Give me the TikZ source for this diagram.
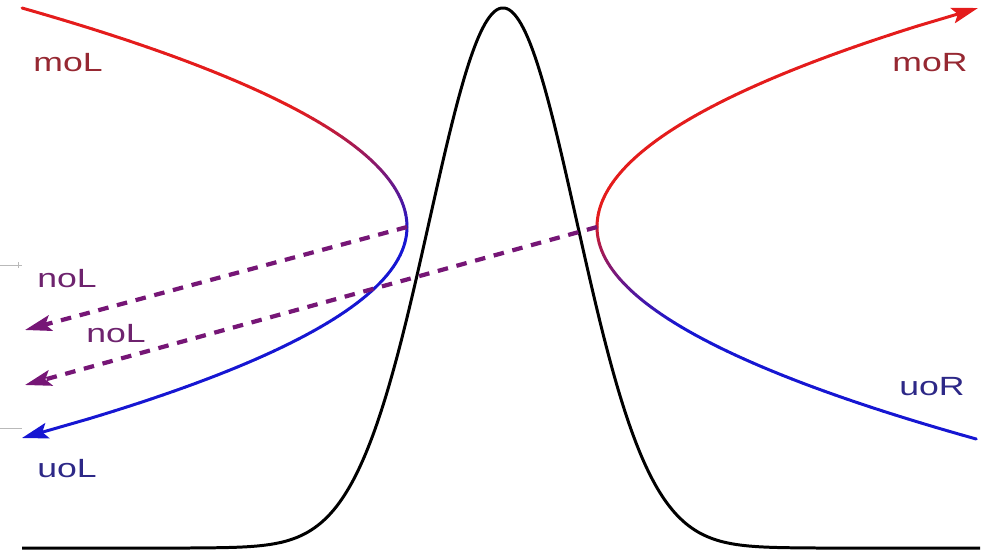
\documentclass[tikz,border=0pt]{standalone}
\usepackage{fontspec}
\setmainfont{Liberation Sans}
\usetikzlibrary{arrows.meta}
\definecolor{BrRed}{RGB}{228,28,28}
\definecolor{BrBlue}{RGB}{22,22,210}
\definecolor{BrPurple}{RGB}{118,22,118}
\definecolor{TxRed}{RGB}{150,40,50}
\definecolor{TxPurple}{RGB}{110,35,110}
\definecolor{TxBlue}{RGB}{45,40,135}

\begin{document}
\begin{tikzpicture}[x=0.02cm, y=-0.02cm,
      branch/.style={line width=1.7pt, line cap=round},
      bell/.style={black, line width=1.7pt},
      tunnel/.style={BrPurple, line width=2.4pt, dash pattern=on 6pt off 5pt,
                     -{Stealth[length=15pt, width=9pt, inset=3pt]}},
      tip/.style={-{Stealth[length=15pt, width=9pt, inset=3pt]}},
      lbl/.style={font=\fontsize{15}{18}\selectfont, inner sep=0pt,
                  xscale=1.35, transform shape}
    ]
    \useasboundingbox (0,0) rectangle (990,556);

    %--- stray marks at the left edge
    \draw[gray!55, line width=0.5pt] (0,265) -- (22,265) (18,262) -- (18,268);
    \draw[gray!55, line width=0.5pt] (0,428) -- (22,428);

    %--- barrier
    \draw[bell] plot[domain=22:980, samples=241, smooth]
          (\x, {548-540*exp(-((\x-503)/104)^2)});

    %--- left branch
    \coordinate (vL) at (407,227);
    \coordinate (uoLtip) at (22,438);
    \foreach \y [remember=\y as \yp (initially 8)] in {11,14,...,227} {
      \pgfmathtruncatemacro\pc{max(0,min(100,(240-\y)/1.3))}
      \draw[branch, BrRed!\pc!BrBlue]
            ({407-0.00803*(\yp-227)*(\yp-227)},\yp)
            -- ({407-0.00803*(\y-227)*(\y-227)},\y);
    }
    \foreach \y [remember=\y as \yp (initially 227)] in {231,235,...,419} {
      \pgfmathtruncatemacro\pc{max(0,min(100,(240-\y)/1.3))}
      \draw[branch, BrRed!\pc!BrBlue]
            ({407-0.00865*(\yp-227)*(\yp-227)},\yp)
            -- ({407-0.00865*(\y-227)*(\y-227)},\y);
    }
    \coordinate (uoLend) at ({407-0.00865*192*192},419);
    \draw[branch, BrBlue, tip] (uoLend) -- (uoLtip);

    %--- right branch
    \coordinate (vR) at (597,227);
    \coordinate (moRtip) at (978,8);
    \coordinate (moRend) at ({597+0.00794*201*201},26);
    \draw[branch, BrRed, tip] (moRend) -- (moRtip);
    \foreach \y [remember=\y as \yp (initially 26)] in {29,32,...,227} {
      \pgfmathtruncatemacro\pc{max(0,min(100,(330-\y)/1.1))}
      \draw[branch, BrRed!\pc!BrBlue]
            ({597+0.00794*(\yp-227)*(\yp-227)},\yp)
            -- ({597+0.00794*(\y-227)*(\y-227)},\y);
    }
    \foreach \y [remember=\y as \yp (initially 227)] in {231,235,...,439} {
      \pgfmathtruncatemacro\pc{max(0,min(100,(330-\y)/1.1))}
      \draw[branch, BrRed!\pc!BrBlue]
            ({597+0.00844*(\yp-227)*(\yp-227)},\yp)
            -- ({597+0.00844*(\y-227)*(\y-227)},\y);
    }

    %--- tunnelling paths
    \coordinate (noLtipA) at (25,330);
    \coordinate (noLtipB) at (25,385);
    \draw[tunnel] (vL) -- (noLtipA);
    \draw[tunnel] (vR) -- (noLtipB);

    %--- labels
    \node[lbl, TxRed]    (moL)  at (68,63)   {moL};
    \node[lbl, TxRed]    (moR)  at (930,63)  {moR};
    \node[lbl, TxPurple] (noLa) at (67,279)  {noL};
    \node[lbl, TxPurple] (noLb) at (116,334) {noL};
    \node[lbl, TxBlue]   (uoL)  at (67,469)  {uoL};
    \node[lbl, TxBlue]   (uoR)  at (932,387) {uoR};
  \end{tikzpicture}
\end{document}
